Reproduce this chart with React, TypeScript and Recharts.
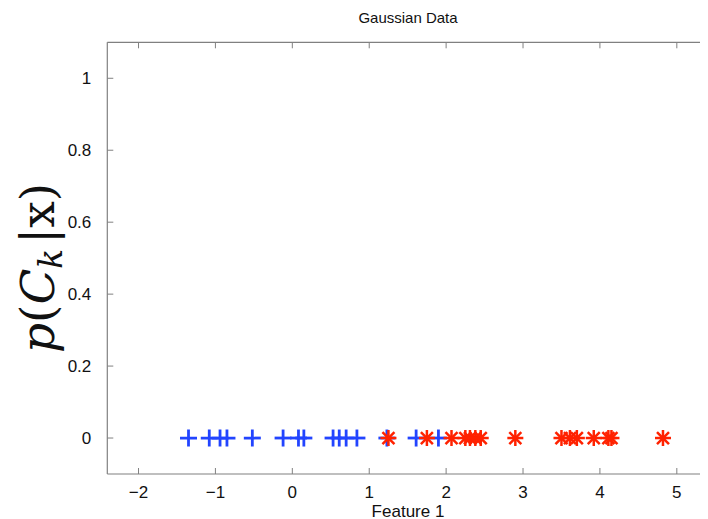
import React from 'react';
import { ScatterChart, Scatter, XAxis, YAxis, Label } from 'recharts';

// Class 1 (blue +) feature values
const class1X = [-1.35, -1.08, -0.94, -0.85, -0.52, -0.12, 0.08, 0.15, 0.53, 0.61, 0.7, 0.84, 1.23, 1.61, 1.9];
// Class 2 (red *) feature values
const class2X = [1.25, 1.75, 2.07, 2.25, 2.31, 2.38, 2.45, 2.9, 3.5, 3.61, 3.7, 3.92, 4.11, 4.15, 4.82];
// Posterior value plotted for every point
const posteriorValue = 0;

const xTicks = [-2, -1, 0, 1, 2, 3, 4, 5];
const yTicks = [0, 0.2, 0.4, 0.6, 0.8, 1];
const yTickLabels = ['0', '0.2', '0.4', '0.6', '0.8', '1'];

const class1Data = class1X.map((x) => ({ x, y: posteriorValue }));
const class2Data = class2X.map((x) => ({ x, y: posteriorValue }));

const FRAME = '#808080';
const FONT = '"Liberation Sans", Arial, Helvetica, sans-serif';
const BLUE = '#2244ff';
const RED = '#ff2200';
const TEXT = '#111';
const TOP_Y = 34.3;

const fmtX = (v: number) => (v < 0 ? '\u2212' + Math.abs(v) : String(v));

const BottomTick = (props: any) => {
  const { x, y, payload } = props;
  return (
    <g>
      <line x1={x} x2={x} y1={y} y2={y - 6} stroke={FRAME} strokeWidth={1} />
      <line x1={x} x2={x} y1={TOP_Y} y2={TOP_Y + 6} stroke={FRAME} strokeWidth={1} />
      <text x={x} y={y + 23.5} textAnchor="middle" fontFamily={FONT} fontSize={17} fill={TEXT}>
        {fmtX(payload.value)}
      </text>
    </g>
  );
};

const LeftTick = (props: any) => {
  const { x, y, payload, index } = props;
  const idx = yTicks.indexOf(payload.value);
  return (
    <g>
      <line x1={x} x2={x + 6} y1={y} y2={y} stroke={FRAME} strokeWidth={1} />
      <text x={x - 16} y={y + 6} textAnchor="end" fontFamily={FONT} fontSize={17} fill={TEXT}>
        {idx >= 0 ? yTickLabels[idx] : yTickLabels[index]}
      </text>
    </g>
  );
};

const PlusShape = (props: any) => {
  const { cx, cy } = props;
  const h = 8.5;
  return (
    <g stroke={BLUE} strokeWidth={2.8}>
      <line x1={cx - h} x2={cx + h} y1={cy} y2={cy} />
      <line x1={cx} x2={cx} y1={cy - h} y2={cy + h} />
    </g>
  );
};

const StarShape = (props: any) => {
  const { cx, cy } = props;
  const h = 8;
  const d = 6;
  return (
    <g stroke={RED} strokeWidth={2.5}>
      <line x1={cx - h} x2={cx + h} y1={cy} y2={cy} />
      <line x1={cx} x2={cx} y1={cy - h} y2={cy + h} />
      <line x1={cx - d} x2={cx + d} y1={cy - d} y2={cy + d} />
      <line x1={cx - d} x2={cx + d} y1={cy + d} y2={cy - d} />
    </g>
  );
};

export default function App() {
  return (
    <div style={{ width: 700, height: 511, overflow: 'hidden', background: '#fff' }}>
      <ScatterChart
        width={800}
        height={511}
        margin={{ top: 33.3, right: 85.5, bottom: 0, left: 0 }}
      >
        <XAxis
          xAxisId="bottom"
          type="number"
          dataKey="x"
          domain={[-2.406, 5.594]}
          ticks={xTicks}
          interval={0}
          allowDataOverflow
          height={45}
          tickSize={0}
          tickMargin={0}
          tickLine={false}
          axisLine={{ stroke: FRAME, strokeWidth: 1.2 }}
          tick={<BottomTick />}
        >
          <Label
            content={() => (
              <text x={400} y={508.5} textAnchor="middle" fontFamily={FONT} fontSize={17} fill={TEXT}>
                Feature 1
              </text>
            )}
          />
        </XAxis>
        <XAxis
          xAxisId="top"
          orientation="top"
          type="number"
          dataKey="x"
          domain={[-2.406, 5.594]}
          ticks={xTicks}
          interval={0}
          allowDataOverflow
          height={1}
          tick={false}
          tickLine={false}
          axisLine={{ stroke: FRAME, strokeWidth: 1.2 }}
        >
          <Label
            content={() => (
              <text x={400} y={14.5} textAnchor="middle" fontFamily={FONT} fontSize={15} fill={TEXT}>
                Gaussian Data
              </text>
            )}
          />
        </XAxis>
        <YAxis
          type="number"
          dataKey="y"
          domain={[-0.1, 1.1]}
          ticks={yTicks}
          interval={0}
          allowDataOverflow
          width={99.3}
          tickSize={0}
          tickMargin={0}
          tickLine={false}
          axisLine={{ stroke: FRAME, strokeWidth: 1.2 }}
          tick={<LeftTick />}
        >
          <Label
            content={() => (
              <text
                x={0}
                y={0}
                transform="translate(46,260) rotate(-90)"
                textAnchor="middle"
                fontFamily='"DejaVu Serif", "Liberation Serif", serif'
                fontSize={47}
                fill={TEXT}
              >
                <tspan fontStyle="italic">p</tspan>
                <tspan>(</tspan>
                <tspan fontStyle="italic">C</tspan>
                <tspan fontStyle="italic" fontSize={33} dy={8}>k</tspan>
                <tspan dy={-8} dx={5}>|</tspan>
                <tspan>x)</tspan>
              </text>
            )}
          />
        </YAxis>
        <Scatter
          xAxisId="bottom"
          data={class1Data}
          shape={<PlusShape />}
          isAnimationActive={false}
        />
        <Scatter
          xAxisId="bottom"
          data={class2Data}
          shape={<StarShape />}
          isAnimationActive={false}
        />
      </ScatterChart>
    </div>
  );
}
